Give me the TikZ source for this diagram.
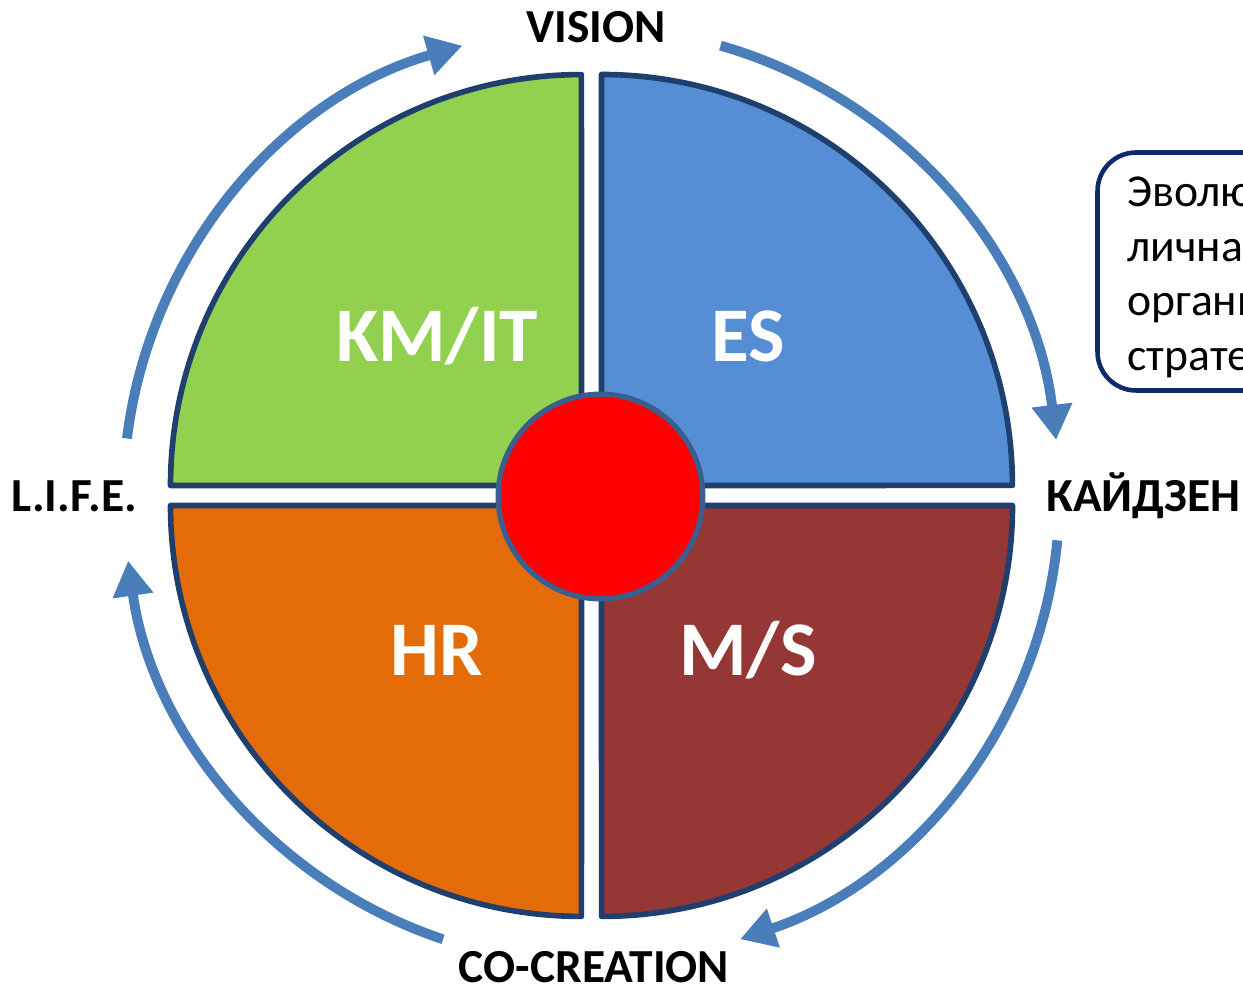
\documentclass[tikz,border=0pt]{standalone}
\usepackage{xcolor}
\usepackage{fontspec}
\setmainfont{Carlito}
\usetikzlibrary{arrows.meta}

\definecolor{kmgreen}{HTML}{92D050}
\definecolor{esblue}{HTML}{558ED5}
\definecolor{hrorange}{HTML}{E36C09}
\definecolor{msred}{HTML}{953735}
\definecolor{rim}{HTML}{1F3F6F}
\definecolor{hubrim}{HTML}{3A5F8F}
\definecolor{turnblue}{HTML}{4A7EBB}
\definecolor{noterim}{HTML}{0E2A6A}

\begin{document}
\begin{tikzpicture}[x=0.02cm,y=0.02cm,
  quarter/.style={draw=rim,line width=3.2pt,line join=round},
  sector/.style={text=white,font=\bfseries\fontsize{44}{50}\selectfont,anchor=base},
  phase/.style={font=\bfseries\fontsize{27}{32}\selectfont,anchor=base},
  turn/.style={draw=turnblue,line width=5.6pt,-{Triangle[width=22pt,length=20pt]}}]
  \useasboundingbox (0,0) rectangle (1243,987);

  % the four quarters
  \draw[quarter,fill=kmgreen] (581.5,501.5) -- ++(-411,0) arc (180:90:8.22cm) -- cycle;
  \draw[quarter,fill=esblue] (601.5,501.5) -- ++(0,411) arc (90:0:8.22cm) -- cycle;
  \draw[quarter,fill=hrorange] (581.5,481.5) -- ++(-411,0) arc (180:270:8.22cm) -- cycle;
  \draw[quarter,fill=msred] (601.5,481.5) -- ++(411,0) arc (0:-90:8.22cm) -- cycle;

  \node[circle,draw=hubrim,fill=red,line width=3pt,inner sep=0pt,minimum size=116.5pt] (hub) at (600.5,490.5) {};

  \node[sector] (KM) at (437,625) {KM/IT};
  \node[sector] (ES) at (748,625) {ES};
  \node[sector] (HR) at (437,311) {HR};
  \node[sector] (MS) at (748,311) {M/S};

  \node[phase] (vision) at (596,944) {VISION};
  \node[phase,anchor=base west,inner sep=0pt] (kaizen) at (1046,475) {КАЙДЗЕН};
  \node[phase] (cocreation) at (594,5) {CO-CREATION};
  \node[phase] (life) at (74,475) {L.I.F.E.};

  % arrows round the circle
  \draw[turn] (591.5,491.5) ++(74:468) arc (74:6.8:9.36cm);
  \draw[turn] (591.5,491.5) ++(-5.5:468) arc (-5.5:-71.5:9.36cm);
  \draw[turn] (591.5,491.5) ++(251.5:468) arc (251.5:188:9.36cm);
  \draw[turn] (591.5,491.5) ++(173:468) arc (173:106:9.36cm);

  \draw[draw=noterim,line width=2.6pt,rounded corners=22pt] (1097.5,596.5) rectangle (1420,834.5);
  \node[anchor=north west,inner sep=0pt,align=left,font=\fontsize{26}{31}\selectfont] (note) at (1127,810)
    {Эволюционная\\личная и\\организационная\\стратегия};
\end{tikzpicture}
\end{document}
